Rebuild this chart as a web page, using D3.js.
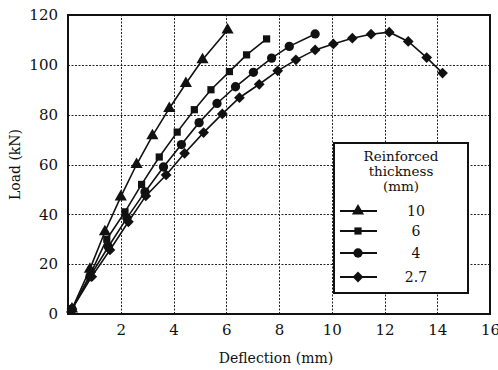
<!DOCTYPE html>
<html>
<head>
<meta charset="utf-8">
<script src="https://cdn.jsdelivr.net/npm/d3@7"></script>
<style>
  html, body { margin: 0; padding: 0; background: #fff; }
  svg { display: block; }
  text { font-family: "DejaVu Serif", "Liberation Serif", serif; fill: #111; }
</style>
</head>
<body>
<svg id="chart" width="498" height="370"></svg>
<script>
// Load–deflection curves for each reinforcement thickness
const thicknessLabels = ["10", "6", "4", "2.7"];
const markerTypes = ["triangle", "square", "circle", "diamond"];

const deflection10 = [0.15, 0.83, 1.40, 2.00, 2.60, 3.20, 3.84, 4.47, 5.10, 6.05];
const load10       = [2, 18, 33, 47, 60, 71.5, 82.5, 92.5, 102, 114];

const deflection6 = [0.15, 0.85, 1.47, 2.16, 2.79, 3.46, 4.14, 4.79, 5.42, 6.12, 6.77, 7.53];
const load6       = [2, 16, 30, 41, 52, 63, 73, 82, 90, 97.3, 104, 110.4];

const deflection4 = [0.15, 0.83, 1.53, 2.23, 2.92, 3.62, 4.30, 4.97, 5.65, 6.35, 7.03, 7.72, 8.39, 9.37];
const load4       = [2, 15, 27, 38.5, 49, 59, 68, 76.8, 84.5, 91.2, 97, 102.7, 107.4, 112.4];

const deflection27 = [0.15, 0.90, 1.59, 2.29, 2.95, 3.72, 4.42, 5.14, 5.85, 6.50, 7.25, 7.95, 8.64, 9.37,
                      10.06, 10.78, 11.49, 12.18, 12.90, 13.60, 14.20];
const load27       = [2, 15, 25.7, 37, 47.4, 55.8, 64.5, 72.8, 80.3, 86.8, 92.2, 97.6, 102, 106,
                      108.4, 110.7, 112.3, 113.1, 109.4, 102.9, 96.7];

const xTicks = [2, 4, 6, 8, 10, 12, 14, 16];
const yTicks = [0, 20, 40, 60, 80, 100, 120];

const seriesX = [deflection10, deflection6, deflection4, deflection27];
const seriesY = [load10, load6, load4, load27];
const series = seriesX.map((xs, i) => ({
  label: thicknessLabels[i],
  marker: markerTypes[i],
  points: xs.map((d, j) => [d, seriesY[i][j]])
}));

const svg = d3.select("#chart");
const margin = { left: 68, top: 15, right: 8, bottom: 56 };
const width = 498, height = 370;

const x = d3.scaleLinear().domain([0, 16]).range([margin.left, width - margin.right]);
const y = d3.scaleLinear().domain([0, 120]).range([height - margin.bottom, margin.top]);

// Dotted grid
const grid = svg.append("g").attr("stroke", "#222").attr("stroke-width", 1).attr("stroke-dasharray", "2,1.5");
grid.selectAll("line.v").data(xTicks.slice(0, -1)).join("line")
  .attr("x1", d => Math.round(x(d)) + 0.5).attr("x2", d => Math.round(x(d)) + 0.5)
  .attr("y1", y(0)).attr("y2", y(120));
grid.selectAll("line.h").data(yTicks.slice(1, -1)).join("line")
  .attr("y1", d => Math.round(y(d)) + 0.5).attr("y2", d => Math.round(y(d)) + 0.5)
  .attr("x1", x(0)).attr("x2", x(16));

// Axes (tick labels only, frame drawn separately)
const xAxis = svg.append("g").attr("transform", `translate(0,${y(0)})`)
  .call(d3.axisBottom(x).tickValues(xTicks).tickSize(0).tickPadding(10));
const yAxis = svg.append("g").attr("transform", `translate(${x(0)},0)`)
  .call(d3.axisLeft(y).tickValues(yTicks).tickSize(0).tickPadding(10));
[xAxis, yAxis].forEach(a => {
  a.select(".domain").remove();
  a.selectAll("text").style("font-family", "DejaVu Serif, serif").style("font-size", "15px").attr("fill", "#111");
});

// Plot frame
svg.append("rect")
  .attr("x", x(0)).attr("y", y(120))
  .attr("width", x(16) - x(0)).attr("height", y(0) - y(120))
  .attr("fill", "none").attr("stroke", "#111").attr("stroke-width", 2);

// Axis titles
svg.append("text")
  .attr("x", (x(0) + x(16)) / 2 - 3).attr("y", 363)
  .attr("text-anchor", "middle").style("font-size", "14px")
  .text("Deflection (mm)");
svg.append("text")
  .attr("transform", `translate(20,${(y(0) + y(120)) / 2}) rotate(-90)`)
  .attr("text-anchor", "middle").style("font-size", "14px")
  .text("Load (kN)");

// Square diamond (rotated square) marker
const squareDiamond = {
  draw(context, size) {
    const r = Math.sqrt(size / 2);
    context.moveTo(0, -r);
    context.lineTo(r, 0);
    context.lineTo(0, r);
    context.lineTo(-r, 0);
    context.closePath();
  }
};

const symbolFor = {
  triangle: d3.symbol(d3.symbolTriangle, 64),
  square: d3.symbol(d3.symbolSquare, 52),
  circle: d3.symbol(d3.symbolCircle, 68),
  diamond: d3.symbol(squareDiamond, 58)
};

const line = d3.line().x(d => x(d[0])).y(d => y(d[1]));

const seriesG = svg.append("g").selectAll("g").data(series).join("g");
seriesG.append("path")
  .attr("d", d => line(d.points))
  .attr("fill", "none").attr("stroke", "#111").attr("stroke-width", 1.6);
seriesG.each(function (s) {
  d3.select(this).selectAll("path.m").data(s.points).join("path")
    .attr("class", "m")
    .attr("transform", d => `translate(${x(d[0])},${y(d[1])})`)
    .attr("d", symbolFor[s.marker]())
    .attr("fill", "#111");
});

// Legend
const lg = svg.append("g");
lg.append("rect")
  .attr("x", 334).attr("y", 143).attr("width", 134).attr("height", 150)
  .attr("fill", "#fff").attr("stroke", "#111").attr("stroke-width", 2);
["Reinforced", "thickness", "(mm)"].forEach((t, i) => {
  lg.append("text").attr("x", 401).attr("y", [161, 176, 191][i])
    .attr("text-anchor", "middle").style("font-size", "13.5px").text(t);
});
const rowY = [211, 231, 253, 277];
series.forEach((s, i) => {
  lg.append("line").attr("x1", 340).attr("x2", 377).attr("y1", rowY[i]).attr("y2", rowY[i])
    .attr("stroke", "#111").attr("stroke-width", 1.8);
  lg.append("path").attr("transform", `translate(358,${rowY[i]})`)
    .attr("d", symbolFor[s.marker]()).attr("fill", "#111");
  lg.append("text").attr("x", 416).attr("y", rowY[i] + 5)
    .attr("text-anchor", "middle").style("font-size", "14px").text(s.label);
});
</script>
</body>
</html>
